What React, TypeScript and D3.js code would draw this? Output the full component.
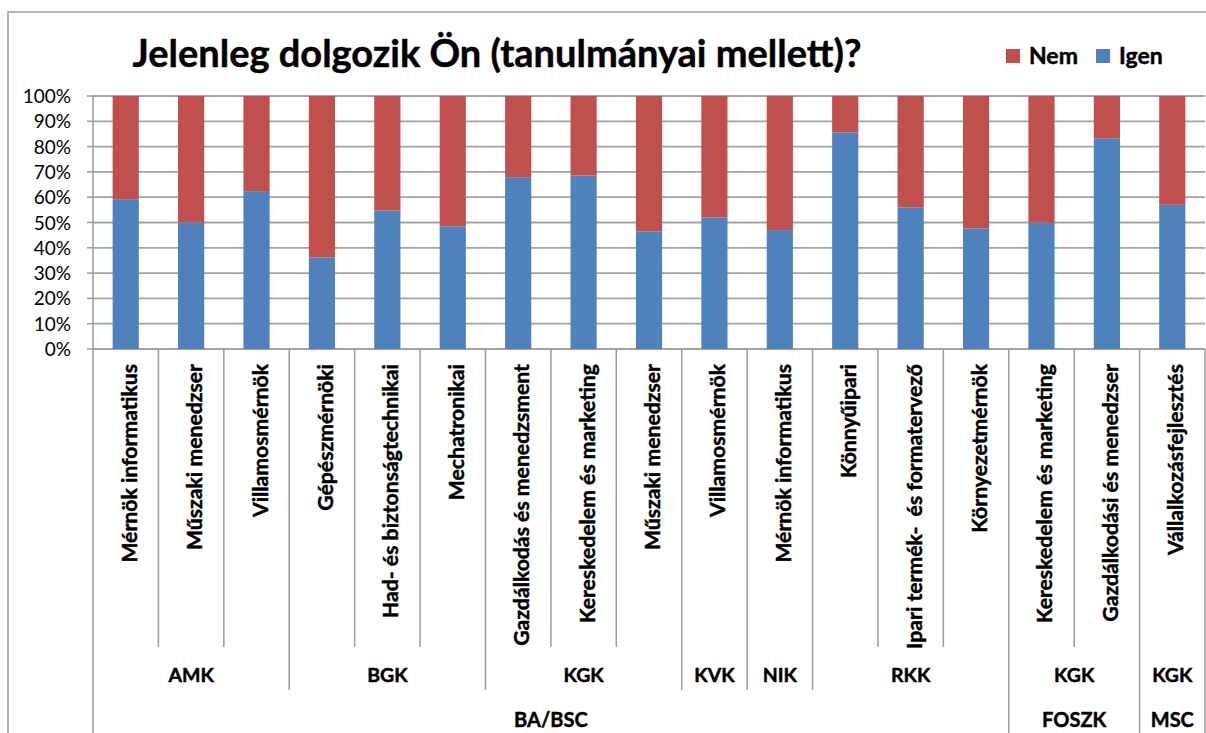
import React from "react";
import * as d3 from "d3";

const categories = [
  "Mérnök informatikus",
  "Műszaki menedzser",
  "Villamosmérnök",
  "Gépészmérnöki",
  "Had- és biztonságtechnikai",
  "Mechatronikai",
  "Gazdálkodás és menedzsment",
  "Kereskedelem és marketing",
  "Műszaki menedzser",
  "Villamosmérnök",
  "Mérnök informatikus",
  "Könnyűipari",
  "Ipari termék-  és formatervező",
  "Környezetmérnök",
  "Kereskedelem és marketing",
  "Gazdálkodási és menedzser",
  "Vállalkozásfejlesztés",
];
const faculty = ["AMK", "AMK", "AMK", "BGK", "BGK", "BGK", "KGK", "KGK", "KGK", "KVK", "NIK", "RKK", "RKK", "RKK", "KGK", "KGK", "KGK"];
const level = ["BA/BSC", "BA/BSC", "BA/BSC", "BA/BSC", "BA/BSC", "BA/BSC", "BA/BSC", "BA/BSC", "BA/BSC", "BA/BSC", "BA/BSC", "BA/BSC", "BA/BSC", "BA/BSC", "FOSZK", "FOSZK", "MSC"];
const igen = [59.2, 50.0, 62.4, 36.2, 54.7, 48.5, 67.9, 68.6, 46.5, 52.0, 47.0, 85.6, 56.0, 47.6, 49.9, 83.3, 57.0];
const nem = [40.8, 50.0, 37.6, 63.8, 45.3, 51.5, 32.1, 31.4, 53.5, 48.0, 53.0, 14.4, 44.0, 52.4, 50.1, 16.7, 43.0];
const seriesNames = ["Igen", "Nem"];
const seriesColors = ["#4F81BD", "#C0504D"];
const yTicks = [0, 0.1, 0.2, 0.3, 0.4, 0.5, 0.6, 0.7, 0.8, 0.9, 1];
const title = "Jelenleg dolgozik Ön (tanulmányai mellett)?";

const W = 1206;
const H = 733;
const plotL = 93;
const plotR = 1205;
const plotT = 96;
const plotB = 349;
const FONT = "Lato, 'Open Sans', sans-serif";

function runs(keys: string[]) {
  const out: { key: string; start: number; end: number }[] = [];
  keys.forEach((k, i) => {
    const last = out[out.length - 1];
    if (last && last.key === k) last.end = i;
    else out.push({ key: k, start: i, end: i });
  });
  return out;
}

export default function App() {
  const idx = categories.map((_, i) => i);
  const x = d3.scaleBand<number>().domain(idx).range([plotL, plotR]).paddingInner(0.6).paddingOuter(0.3);
  const step = x.step();
  const y = d3.scaleLinear().domain([0, 1]).range([plotB, plotT]);
  const rows = idx.map((i) => ({ i, Igen: igen[i], Nem: nem[i] }));
  const stacked = d3.stack<any>().keys(seriesNames).offset(d3.stackOffsetExpand)(rows);
  const edge = (i: number) => plotL + i * step;

  const l2 = runs(idx.map((i) => level[i] + "|" + faculty[i]));
  const l3 = runs(level);

  const gridColor = "#a3a3a3";
  const axisColor = "#9a9a9a";
  const heavy = { stroke: "#000", strokeWidth: 0.45 };

  return (
    <svg width={W} height={H} style={{ position: "absolute", left: 0, top: 0, background: "#fff" }}>
      <rect x={8} y={12} width={W + 20} height={H + 20} fill="#fff" stroke="#8e8e8e" strokeWidth={1.3} />
      <text x={497} y={67} textAnchor="middle" fontFamily={FONT} fontWeight="bold" fontSize={38} fill="#000" {...heavy}>
        {title}
      </text>
      {/* legend */}
      {[1, 0].map((s, k) => {
        const lx = k === 0 ? 1006 : 1096;
        return (
          <g key={s}>
            <rect x={lx} y={49} width={14} height={14} fill={seriesColors[s]} />
            <text x={lx + 23} y={63.5} fontFamily={FONT} fontWeight="bold" fontSize={23} fill="#000" {...heavy}>
              {seriesNames[s]}
            </text>
          </g>
        );
      })}
      {/* gridlines */}
      {yTicks.map((t) => (
        <line key={t} x1={plotL} x2={plotR} y1={y(t)} y2={y(t)} stroke={gridColor} strokeWidth={1.8} />
      ))}
      {/* bars */}
      {stacked.map((ser, s) => (
        <g key={ser.key}>
          {ser.map((d: any, i: number) => (
            <rect
              key={i}
              x={x(i)}
              width={x.bandwidth()}
              y={y(d[1])}
              height={y(d[0]) - y(d[1])}
              fill={seriesColors[s]}
            />
          ))}
        </g>
      ))}
      {/* y axis */}
      <line x1={plotL} x2={plotL} y1={plotT} y2={H} stroke={axisColor} strokeWidth={1.5} />
      {yTicks.map((t) => (
        <g key={"t" + t}>
          <line x1={plotL - 6} x2={plotL} y1={y(t)} y2={y(t)} stroke={axisColor} strokeWidth={1.5} />
          <text x={71} y={y(t) + 7} textAnchor="end" fontFamily={FONT} fontSize={19} fill="#000">
            {d3.format(".0%")(t)}
          </text>
        </g>
      ))}
      {/* category dividers */}
      {d3.range(1, categories.length + 1).map((b) => {
        let y2 = 647;
        if (b === categories.length || l3.some((r) => r.start === b)) y2 = H;
        else if (l2.some((r) => r.start === b)) y2 = 690;
        return <line key={"d" + b} x1={edge(b)} x2={edge(b)} y1={plotB} y2={y2} stroke={axisColor} strokeWidth={1.5} />;
      })}
      {/* category labels */}
      {categories.map((c, i) => {
        const cx = (x(i) as number) + x.bandwidth() / 2 + 11;
        return (
          <text
            key={"c" + i}
            transform={`translate(${cx},364) rotate(-90)`}
            textAnchor="end"
            fontFamily={FONT}
            fontWeight="bold"
            fontSize={21.2}
            fill="#000"
            {...heavy}
            style={{ whiteSpace: "pre" }}
          >
            {c}
          </text>
        );
      })}
      {l2.map((r, k) => (
        <text
          key={"l2" + k}
          x={(edge(r.start) + edge(r.end + 1)) / 2}
          y={682}
          textAnchor="middle"
          fontFamily={FONT}
          fontWeight="bold"
          fontSize={19.5}
          fill="#000"
          {...heavy}
        >
          {r.key.split("|")[1]}
        </text>
      ))}
      {l3.map((r, k) => (
        <text
          key={"l3" + k}
          x={(edge(r.start) + edge(r.end + 1)) / 2}
          y={727}
          textAnchor="middle"
          fontFamily={FONT}
          fontWeight="bold"
          fontSize={20}
          fill="#000"
          {...heavy}
        >
          {r.key}
        </text>
      ))}
    </svg>
  );
}
